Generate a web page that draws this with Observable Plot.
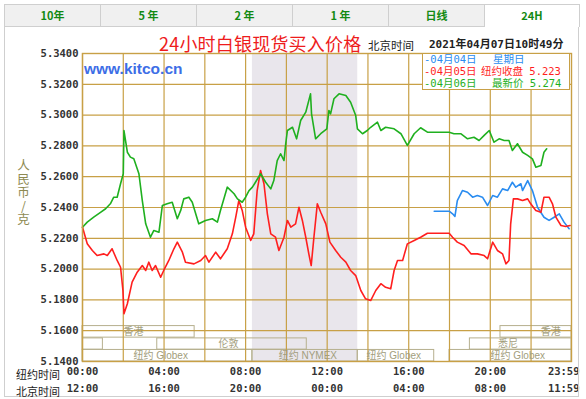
<!DOCTYPE html>
<html><head><meta charset="utf-8">
<script src="https://cdn.jsdelivr.net/npm/d3@7"></script>
<script src="https://cdn.jsdelivr.net/npm/@observablehq/plot@0.6"></script>
<style>
body{margin:0;background:#fff;}
#wrap{position:relative;width:586px;height:399px;overflow:hidden;font-family:"Noto Sans CJK SC","Noto Sans",sans-serif;}
#chart{position:absolute;left:0;top:0;}
.tab{position:absolute;top:4px;height:23px;width:96px;box-sizing:border-box;border:1px solid #cfcfcf;border-right:none;background:#f0f0f0;color:#138a13;font-weight:bold;font-size:11px;text-align:center;line-height:21px;}
.tab.active{background:#fff;border-bottom:none;border-right:1px solid #cfcfcf;}
.abs{position:absolute;white-space:nowrap;}
.mono{font-family:"DejaVu Sans Mono","Noto Sans CJK SC",monospace;font-weight:bold;}
</style></head>
<body>
<div id="wrap">
  <div id="chart"></div>
</div>
<script>
// ---------- data ----------
const tabLabels = ["10年","5 年","2 年","1 年","日线","24H"];
const titleText = "24小时白银现货买入价格";
const clockLabel = "北京时间";
const stampText = "2021年04月07日10时49分";
const yTitle = "人民币/克";

// time in minutes of the New York day
const greenTime = [0,14,33,53,68,82,92,102,112,120,
  122,132,141,151,166,176,186,200,210,225,
  235,249,264,279,289,298,313,323,342,362,
  382,397,406,426,446,456,470,480,490,500,
  509,524,539,554,563,573,583,593,598,603,
  618,630,642,657,671,674,686,701,719,725,
  730,740,755,775,789,804,809,824,838,848,
  868,878,892,917,937,956,976,995,1015,1079,
  1093,1113,1133,1152,1167,1182,1197,1211,1226,1241,
  1255,1265,1280,1295,1310,1324,1334,1349,1358,1366];
const greenValue = [5.2272,5.2305,5.2337,5.2369,5.2392,5.2424,5.2467,5.2467,5.2554,5.2619,
  5.2900,5.2759,5.2727,5.2716,5.2619,5.2445,5.2294,5.2207,5.2251,5.2240,
  5.2413,5.2424,5.2434,5.2327,5.2381,5.2456,5.2467,5.2434,5.2294,5.2316,
  5.2327,5.2305,5.2381,5.2532,5.2489,5.2456,5.2434,5.2467,5.2510,5.2532,
  5.2564,5.2619,5.2564,5.2521,5.2575,5.2705,5.2749,5.2705,5.2814,5.2900,
  5.2921,5.2846,5.2965,5.3019,5.3138,5.3008,5.2846,5.2879,5.2911,5.3030,
  5.3008,5.3106,5.3138,5.3127,5.3084,5.2997,5.2911,5.2879,5.2900,5.2921,
  5.2954,5.2900,5.2921,5.2911,5.2879,5.2803,5.2879,5.2918,5.2889,5.2889,
  5.2879,5.2879,5.2846,5.2856,5.2835,5.2868,5.2900,5.2824,5.2846,5.2835,
  5.2835,5.2770,5.2814,5.2759,5.2738,5.2716,5.2662,5.2673,5.2759,5.2781];

const redTime = [0,14,29,43,63,73,87,102,112,119,
  122,132,146,161,176,186,195,205,215,230,
  239,254,269,279,294,303,328,348,362,372,
  392,406,426,441,451,460,470,480,495,504,
  514,524,534,544,554,568,578,593,603,613,
  627,637,647,657,666,673,681,691,701,716,728,
  745,760,775,789,804,819,833,848,863,
  878,892,907,917,927,942,956,976,995,1015,
  1079,1089,1103,1123,1143,1162,1182,1192,1207,1221,
  1236,1246,1255,1260,1268,1280,1295,1310,1319,1334,
  1349,1358,1373,1383,1393,1408,1422,1435];
const redValue = [5.2272,5.2164,5.2121,5.2088,5.2099,5.2088,5.2132,5.2056,5.2012,5.1861,
  5.1710,5.1775,5.1915,5.1980,5.2023,5.1991,5.2045,5.1991,5.2023,5.1947,
  5.1991,5.2056,5.2132,5.2175,5.2110,5.2045,5.2034,5.2056,5.2088,5.2045,
  5.2110,5.2067,5.2132,5.2229,5.2337,5.2445,5.2381,5.2272,5.2186,5.2229,
  5.2510,5.2640,5.2554,5.2359,5.2229,5.2207,5.2121,5.2207,5.2316,5.2272,
  5.2294,5.2402,5.2316,5.2207,5.2099,5.2023,5.2207,5.2424,5.2369,5.2294,5.2175,
  5.2121,5.2077,5.2045,5.1991,5.1958,5.1861,5.1807,5.1796,5.1861,
  5.1905,5.1882,5.1872,5.1991,5.2056,5.2056,5.2164,5.2186,5.2207,5.2233,
  5.2233,5.2207,5.2175,5.2153,5.2099,5.2099,5.2088,5.2067,5.2175,5.2121,
  5.2099,5.2034,5.2056,5.2294,5.2456,5.2456,5.2445,5.2456,5.2424,5.2381,
  5.2369,5.2467,5.2467,5.2424,5.2337,5.2283,5.2277,5.2283];

const blueTime = [1035,1079,1089,1096,1103,1118,1133,1148,1162,1177,
  1192,1207,1221,1236,1251,1265,1275,1290,1295,1310,
  1324,1339,1358,1373,1388,1403,1417,1432];
const blueValue = [5.2376,5.2376,5.2359,5.2342,5.2445,5.2510,5.2499,5.2467,5.2478,5.2467,
  5.2413,5.2478,5.2467,5.2521,5.2510,5.2564,5.2532,5.2554,5.2510,5.2575,
  5.2510,5.2402,5.2337,5.2316,5.2337,5.2359,5.2305,5.2262];

const nymexStart = [500];
const nymexEnd = [810];

const sessionStart = [0,1230,0,220,1140,0,500,810,1080];
const sessionEnd   = [330,1439,60,660,1439,500,810,1035,1439];
const sessionRow   = ["hk","hk","ldn","ldn","ldn","ny","ny","ny","ny"];
const rowLow  = {hk:5.1555, ldn:5.1477, ny:5.1400};
const rowHigh = {hk:5.1630, ldn:5.1550, ny:5.1475};
const rowMid  = {hk:5.1590, ldn:5.1516, ny:5.1440};
const sessionLabel = ["香港","香港","伦敦","悉尼","纽约 Globex","纽约 NYMEX","纽约 Globex","纽约 Globex"];
const sessionLabelAt = [150,1378,430,1252,230,663,916,1281];
const sessionLabelRow = ["hk","hk","ldn","ldn","ny","ny","ny","ny"];

const yTicks = [5.14,5.16,5.18,5.20,5.22,5.24,5.26,5.28,5.30,5.32,5.34];
const xGrid = [0,120,240,360,480,600,720,840,960,1080,1200,1320];
const xTickMinutes = [0,240,480,720,960,1200];
const nyTickLabels = ["00:00","04:00","08:00","12:00","16:00","20:00"];
const bjTickLabels = ["12:00","16:00","20:00","00:00","04:00","08:00"];
const endMinute = [1439];
const nyEndLabel = ["23:59"];
const bjEndLabel = ["11:59"];

const legendDates = ["-04月04日","-04月05日","-04月06日"];
const legendNotes = ["星期日","纽约收盘 5.223","最新价 5.274"];

// ---------- build ----------
const gold = "#c8a046";
const boxStroke = "#b6b08e";
const labelGray = "#a29d7c";
const cRed = "#ff1f1f", cGreen = "#1fb01f", cBlue = "#2a8cf0";

const series = (t, v) => t.map((d, i) => ({t: d, v: v[i]}));
const green = series(greenTime, greenValue);
const red = series(redTime, redValue);
const blue = series(blueTime, blueValue);
const band = nymexStart.map((s, i) => ({s, e: nymexEnd[i]}));
const sessions = sessionStart.map((s, i) => ({s, e: sessionEnd[i], row: sessionRow[i]}));
const sLabels = sessionLabel.map((l, i) => ({l, x: sessionLabelAt[i], row: sessionLabelRow[i]}));
const ticksNY = xTickMinutes.map((x, i) => ({x, ny: nyTickLabels[i], bj: bjTickLabels[i]}));
const ticksEnd = endMinute.map((x, i) => ({x, ny: nyEndLabel[i], bj: bjEndLabel[i]}));

const monoFont = "DejaVu Sans Mono";
const chart = Plot.plot({
  width: 586, height: 399,
  marginLeft: 82, marginRight: 15, marginTop: 53, marginBottom: 38,
  x: {domain: [0, 1439], axis: null},
  y: {domain: [5.14, 5.34], axis: null},
  style: {background: "transparent", overflow: "visible"},
  marks: [
    Plot.rect(band, {x1: "s", x2: "e", y1: () => 5.14, y2: () => 5.34, fill: "#e9e6ec"}),
    Plot.rect(sessions, {x1: "s", x2: "e", y1: d => rowLow[d.row], y2: d => rowHigh[d.row], fill: "none", stroke: boxStroke, strokeWidth: 1}),
    Plot.ruleX(xGrid, {stroke: gold, strokeWidth: 1.2}),
    Plot.ruleY(yTicks, {stroke: gold, strokeWidth: 1.2}),
    Plot.text(sLabels, {x: "x", y: d => rowMid[d.row], text: "l", fill: labelGray, fontSize: 10, fontFamily: "Liberation Sans, Noto Sans CJK SC"}),
    Plot.line(blue, {x: "t", y: "v", stroke: cBlue, strokeWidth: 1.6}),
    Plot.line(red, {x: "t", y: "v", stroke: cRed, strokeWidth: 1.6}),
    Plot.line(green, {x: "t", y: "v", stroke: cGreen, strokeWidth: 1.6}),
    Plot.frame({stroke: gold, strokeWidth: 1.4}),
    Plot.text(yTicks, {frameAnchor: "left", y: d => d, text: d => d3.format(".4f")(d), textAnchor: "end", dx: -4, fill: "#333", fontSize: 10.5, fontWeight: "bold", fontFamily: monoFont}),
    Plot.text(ticksNY, {x: "x", frameAnchor: "bottom", text: "ny", dy: 13, fill: "#333", fontSize: 10.5, fontWeight: "bold", fontFamily: monoFont}),
    Plot.text(ticksNY, {x: "x", frameAnchor: "bottom", text: "bj", dy: 30, fill: "#333", fontSize: 10.5, fontWeight: "bold", fontFamily: monoFont}),
    Plot.text(ticksEnd, {x: "x", frameAnchor: "bottom", text: "ny", dy: 13, dx: 8, textAnchor: "end", fill: "#333", fontSize: 10.5, fontWeight: "bold", fontFamily: monoFont}),
    Plot.text(ticksEnd, {x: "x", frameAnchor: "bottom", text: "bj", dy: 30, dx: 8, textAnchor: "end", fill: "#333", fontSize: 10.5, fontWeight: "bold", fontFamily: monoFont})
  ]
});
document.getElementById("chart").appendChild(chart);

// ---------- html overlays ----------
const wrap = document.getElementById("wrap");
function add(text, css, cls) {
  const d = document.createElement("div");
  d.className = "abs " + (cls || "");
  d.style.cssText = css;
  d.textContent = text;
  wrap.appendChild(d);
  return d;
}
// frame
add("", "left:4px;top:27px;width:575px;height:370px;border:1px solid #cfcfcf;border-top:none;box-sizing:border-box;");
// tabs
tabLabels.forEach((t, i) => {
  add(t, `left:${4 + 96 * i}px;`, "tab" + (i === tabLabels.length - 1 ? " active" : ""));
});
// title
add(titleText, "left:159px;top:33px;font-size:18px;line-height:20px;color:#ee1c1c;letter-spacing:0.2px;");
add(clockLabel, "left:368px;top:38px;font-size:11.5px;line-height:14px;color:#222;");
add(stampText, "left:429px;top:38px;font-size:11px;line-height:14px;color:#222;", "mono");
// kitco
add("www.kitco.cn", "left:84px;top:60px;font-family:'Liberation Sans',Arial,sans-serif;font-weight:bold;font-size:15.5px;line-height:18px;color:#3d6ee6;");
// y title, vertical single text
add(yTitle, "left:16px;top:159px;font-size:12.5px;line-height:14px;letter-spacing:1px;writing-mode:vertical-rl;text-orientation:upright;color:#8e8a52;");
// bottom row titles
add("纽约时间", "left:16px;top:367px;font-size:11px;line-height:14px;color:#222;");
add("北京时间", "left:16px;top:384px;font-size:11px;line-height:14px;color:#222;");
// legend
add("", `left:422px;top:53px;width:148px;height:37px;background:#fff;border:1.4px solid ${gold};box-sizing:border-box;`);
const legColors = [cBlue, cRed, cGreen];
const noteLeft = [493, 481, 492];
legendDates.forEach((t, i) => {
  const top = 53 + i * 12;
  add(t, `left:424px;top:${top}px;font-size:10.5px;line-height:12px;color:${legColors[i]};font-weight:normal;`, "mono");
  add(legendNotes[i], `left:${noteLeft[i]}px;top:${top}px;font-size:10.5px;line-height:12px;color:${legColors[i]};font-weight:normal;`, "mono");
});
</script>
</body></html>
